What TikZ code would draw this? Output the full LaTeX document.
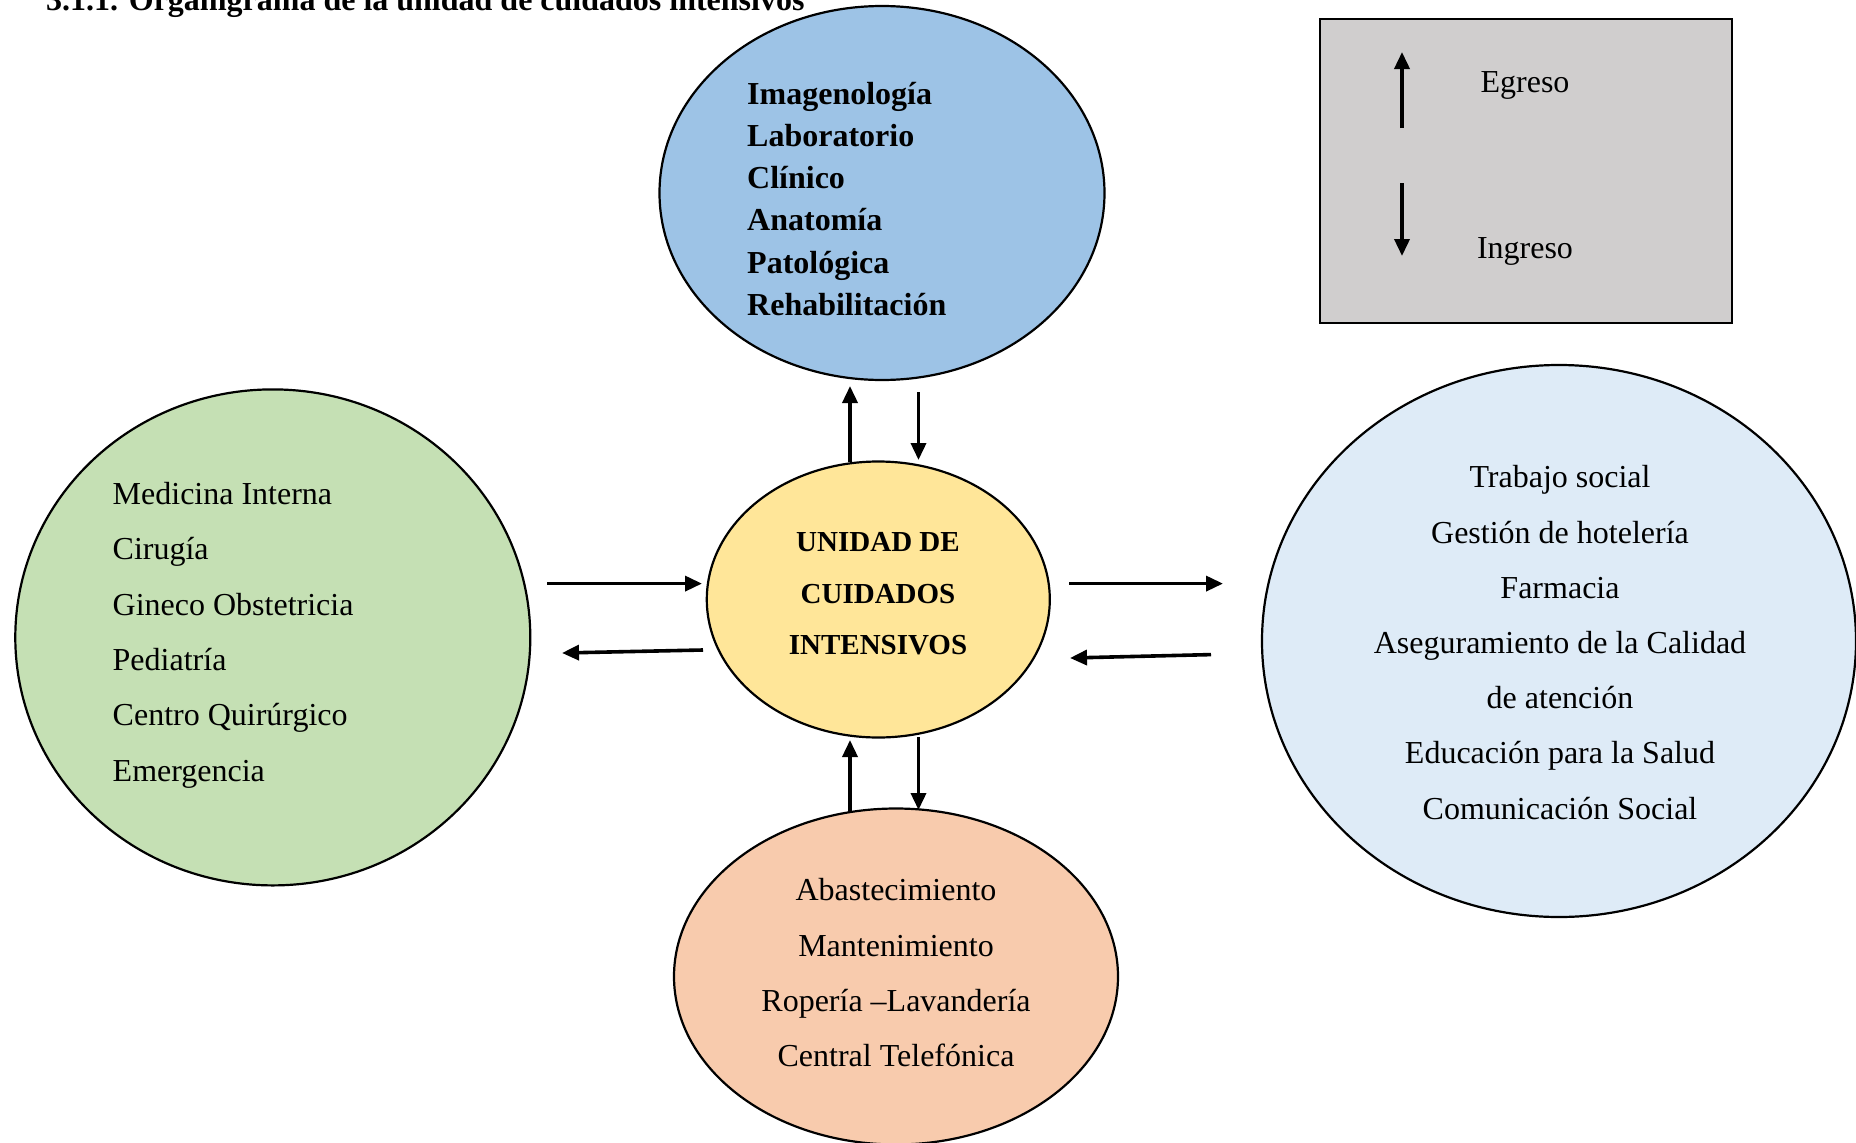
\documentclass[tikz,border=0pt]{standalone}
\usepackage{fontspec}
\setmainfont{Liberation Serif}
\usepackage{tikz}
\usetikzlibrary{shapes.geometric,arrows.meta}
\definecolor{azulsup}{HTML}{9DC3E6}
\definecolor{verdeizq}{HTML}{C5E0B4}
\definecolor{celeste}{HTML}{DEEBF7}
\definecolor{salmon}{HTML}{F8CBAD}
\definecolor{amarillo}{HTML}{FFE699}
\definecolor{grisley}{HTML}{D0CECE}

\begin{document}
\begin{tikzpicture}[x=1pt, y=-1pt,
  zona/.style = {draw, ellipse, line width=2.2pt, inner sep=0pt},
  flecha/.style = {line width=3.6pt, -{Triangle[length=17pt,width=15pt]}},
  texto/.style = {font=\fontsize{32}{38}\selectfont, inner sep=0pt},
  negrita/.style = {font=\fontsize{32}{38}\selectfont\bfseries, inner sep=0pt}]
	\useasboundingbox (0,0) rectangle (1856,1143);
	% titulo cortado arriba
	\node[negrita, anchor=base west] (titulo) at (46,10) {3.1.1. Organigrama de la unidad de cuidados intensivos};
	% zonas
	\node[zona, fill=verdeizq, minimum width=515pt, minimum height=496pt] (hosp) at (272.8,637.4) {};
	\node[zona, fill=azulsup, minimum width=445pt, minimum height=374pt] (diag) at (882,193) {};
	\node[zona, fill=amarillo, minimum width=343pt, minimum height=276pt] (uci) at (878.3,599.5) {};
	\node[zona, fill=celeste, minimum width=594pt, minimum height=552pt] (admin) at (1559,641) {};
	\node[zona, fill=salmon, minimum width=444pt, minimum height=336pt] (serv) at (896,976.5) {};
	% leyenda
	\node[draw, line width=2.5pt, fill=grisley, minimum width=412pt, minimum height=304pt] (ley) at (1526,171) {};
	\node[texto, anchor=mid] (egreso) at (1525,90) {Egreso};
	\node[texto, anchor=mid] (ingreso) at (1525,256) {Ingreso};
	% textos
	\foreach \t [count=\i] in {Medicina Interna, Cirugía, Gineco Obstetricia, Pediatría, Centro Quirúrgico, Emergencia}
	    \node[texto, anchor=mid west] (h\i) at (112.5,{502+55.4*(\i-1)}) {\t};
	\foreach \t [count=\i] in {Imagenología, Laboratorio, Clínico, Anatomía, Patológica, Rehabilitación}
	    \node[negrita, anchor=mid west] (d\i) at (747,{101.8+42.3*(\i-1)}) {\t};
	\foreach \t [count=\i] in {UNIDAD DE, CUIDADOS, INTENSIVOS}
	    \node[negrita, font=\fontsize{29}{34}\selectfont\bfseries, anchor=mid] (u\i) at (878,{549.5+51.5*(\i-1)}) {\t};
	\foreach \t [count=\i] in {Trabajo social, Gestión de hotelería, Farmacia, Aseguramiento de la Calidad, de atención, Educación para la Salud, Comunicación Social}
	    \node[texto, anchor=mid] (a\i) at (1560,{485.5+55.2*(\i-1)}) {\t};
	\foreach \t [count=\i] in {Abastecimiento, Mantenimiento, Ropería –Lavandería, Central Telefónica}
	    \node[texto, anchor=mid] (s\i) at (896,{898.5+55.2*(\i-1)}) {\t};
	% extremos de flechas
	\coordinate (ts1) at (850,462);   \coordinate (te1) at (850,386);
	\coordinate (ts2) at (918.5,392); \coordinate (te2) at (918.5,460);
	\coordinate (ls1) at (547,583.6); \coordinate (le1) at (702,583.6);
	\coordinate (ls2) at (703,650);   \coordinate (le2) at (562,653);
	\coordinate (rs1) at (1069,583.6);\coordinate (re1) at (1223,583.6);
	\coordinate (rs2) at (1211,654.6);\coordinate (re2) at (1070,658);
	\coordinate (bs1) at (850,812);   \coordinate (be1) at (850,740);
	\coordinate (bs2) at (918.5,737); \coordinate (be2) at (918.5,810);
	\coordinate (ys1) at (1402,128);  \coordinate (ye1) at (1402,52);
	\coordinate (ys2) at (1402,183);  \coordinate (ye2) at (1402,256);
	\foreach \p in {t,l,r,b,y}
	    \foreach \k in {1,2}
	        \draw[flecha] (\p s\k) -- (\p e\k);
\end{tikzpicture}
\end{document}
